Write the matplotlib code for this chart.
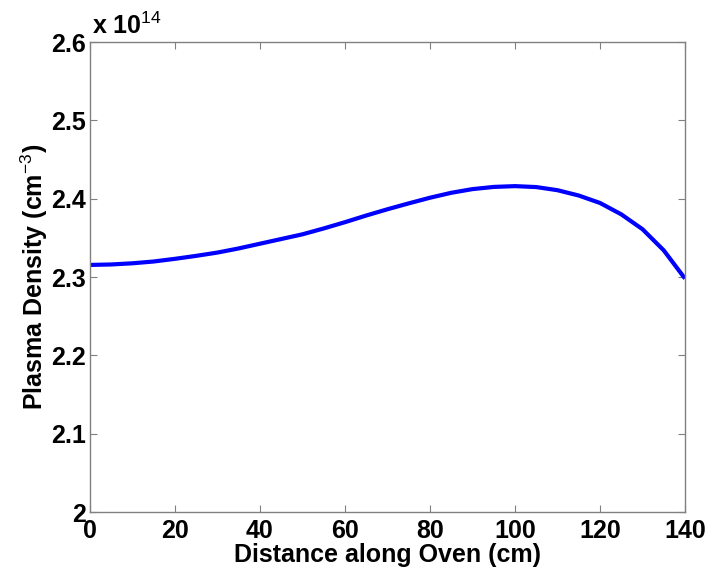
import matplotlib
matplotlib.use("Agg")
import matplotlib.pyplot as plt
import numpy as np

distance_cm = [0, 5, 10, 15, 20, 25, 30, 35, 40, 45, 50, 55, 60, 65, 70,
               75, 80, 85, 90, 95, 100, 105, 110, 115, 120, 125, 130, 135, 140]
density_e14 = [2.3154, 2.3160, 2.3175, 2.3198, 2.3232, 2.3270, 2.3312, 2.3365,
               2.3425, 2.3485, 2.3545, 2.3620, 2.3700, 2.3785, 2.3865, 2.3940,
               2.4012, 2.4075, 2.4122, 2.4150, 2.4160, 2.4148, 2.4108, 2.4040,
               2.3945, 2.3800, 2.3610, 2.3340, 2.2980]
x_ticks = [0, 20, 40, 60, 80, 100, 120, 140]
y_ticks = [2.0, 2.1, 2.2, 2.3, 2.4, 2.5, 2.6]
y_tick_labels = ["2", "2.1", "2.2", "2.3", "2.4", "2.5", "2.6"]

plt.rcParams['font.family'] = ['Liberation Sans', 'DejaVu Sans']
plt.rcParams['mathtext.fontset'] = 'custom'
plt.rcParams['mathtext.rm'] = 'Liberation Sans'
plt.rcParams['mathtext.bf'] = 'Liberation Sans:bold'

fig = plt.figure(figsize=(7.11, 5.73), dpi=100)
ax = fig.add_axes([90/711, 1-512/573, 595/711, 470/573])

ax.plot(distance_cm, density_e14, color='#0000FF', linewidth=3.0,
        solid_joinstyle='round', solid_capstyle='butt')

ax.set_xlim(0, 140)
ax.set_ylim(2.0, 2.6)
ax.set_xticks(x_ticks)
ax.set_xticklabels([str(v) for v in x_ticks])
ax.set_yticks(y_ticks)
ax.set_yticklabels(y_tick_labels)

for s in ax.spines.values():
    s.set_color('#808080')
    s.set_linewidth(1.0)
ax.tick_params(direction='in', length=5, width=0.8, color='#808080',
               top=True, right=True, labelsize=18)
ax.tick_params(axis='x', pad=5)
ax.tick_params(axis='y', pad=3)
for lab in ax.get_xticklabels() + ax.get_yticklabels():
    lab.set_fontweight('bold')

ax.set_xlabel('Distance along Oven (cm)', fontsize=18, fontweight='bold', labelpad=0)
ax.set_ylabel(r'Plasma Density (cm$^{\mathrm{-3}}$)', fontsize=18, fontweight='bold', labelpad=1)

fig.text(92/711, 1-34/573, r'x 10$^{\mathrm{14}}$', fontsize=18, fontweight='bold',
         ha='left', va='baseline')

fig.savefig('out.png', dpi=100)
